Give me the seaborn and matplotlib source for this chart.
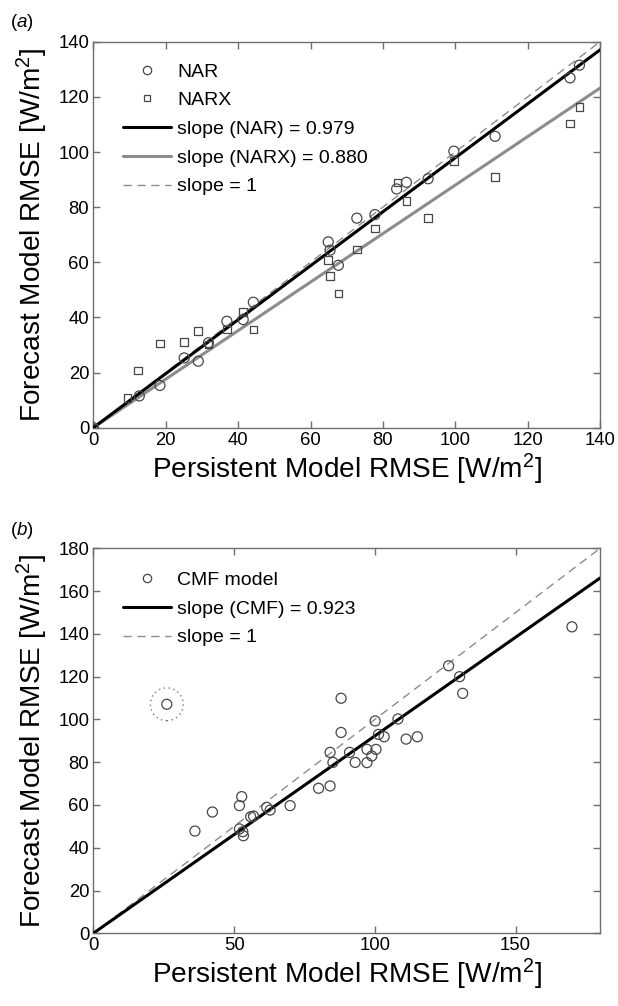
import numpy as np
import pandas as pd
import matplotlib
matplotlib.use("Agg")
import matplotlib.pyplot as plt
import seaborn as sns
from matplotlib.lines import Line2D

# ---------------- data ----------------
# Panel (a)
nar_x = [0, 12.7, 18.4, 25.1, 29.0, 31.8, 36.9, 41.4, 44.2, 64.9, 65.4, 67.7,
         72.8, 77.8, 83.8, 86.5, 92.5, 99.6, 111.0, 131.7, 134.3]
nar_y = [0, 11.5, 15.3, 25.3, 24.1, 30.8, 38.6, 39.2, 45.5, 67.4, 64.4, 58.9,
         76.0, 77.3, 86.6, 89.0, 90.3, 100.3, 105.7, 126.9, 131.5]
narx_x = [0, 9.4, 12.4, 18.4, 25.1, 29.0, 31.8, 36.9, 41.4, 44.2, 64.9, 65.4,
          67.7, 72.8, 77.8, 84.0, 86.5, 92.5, 99.6, 111.0, 131.7, 134.3]
narx_y = [0, 10.8, 20.7, 30.5, 31.0, 35.0, 30.1, 35.6, 41.9, 35.6, 60.8, 55.0,
          48.6, 64.6, 72.2, 89.0, 82.3, 76.0, 96.7, 90.9, 110.3, 116.4]
slope_nar = 0.979
slope_narx = 0.880

# Panel (b)
cmf_x = [26.1, 36.1, 42.3, 51.9, 52.7, 51.9, 53.1, 53.3, 55.9, 56.9, 61.6, 62.8,
         69.9, 80.0, 84.1, 84.1, 85.1, 88.0, 88.0, 91.0, 93.0, 97.2, 97.2, 98.9,
         100.4, 100.1, 101.3, 103.3, 108.2, 111.1, 115.1, 126.2, 130.1, 131.2, 170.0]
cmf_y = [107.1, 47.8, 56.7, 59.7, 63.9, 48.8, 47.5, 45.6, 54.5, 54.8, 58.9, 57.6,
         59.7, 67.8, 68.9, 84.6, 79.9, 109.9, 93.9, 84.6, 79.9, 86.0, 79.8, 82.9,
         86.0, 99.3, 93.0, 91.9, 100.2, 90.8, 91.9, 125.1, 120.0, 112.2, 143.3]
outlier_x = [26.1]
outlier_y = [107.1]
slope_cmf = 0.923

xlim_a = [0, 140]
ylim_a = [0, 140]
xticks_a = [0, 20, 40, 60, 80, 100, 120, 140]
yticks_a = [0, 20, 40, 60, 80, 100, 120, 140]
xlim_b = [0, 180]
ylim_b = [0, 180]
xticks_b = [0, 50, 100, 150]
yticks_b = [0, 20, 40, 60, 80, 100, 120, 140, 160, 180]

labels_a = ["NAR", "NARX", "slope (NAR) = 0.979", "slope (NARX) = 0.880", "slope = 1"]
labels_b = ["CMF model", "slope (CMF) = 0.923", "slope = 1"]
xlabel = "Persistent Model RMSE [W/m$^2$]"
ylabel = "Forecast Model RMSE [W/m$^2$]"

# ---------------- style ----------------
sns.set_style("ticks")
plt.rcParams['font.family'] = ['Liberation Sans', 'DejaVu Sans']
plt.rcParams['mathtext.fontset'] = 'custom'
plt.rcParams['mathtext.rm'] = 'Liberation Sans'
plt.rcParams['mathtext.it'] = 'Liberation Sans:italic'
plt.rcParams['text.color'] = 'black'
plt.rcParams['axes.labelcolor'] = 'black'
plt.rcParams['legend.labelcolor'] = 'black'

SPINE = '#6e6e6e'
PT = '#474747'
GRAY = '#8c8c8c'
DASH = '#8c8c8c'

fig = plt.figure(figsize=(6.18, 10.06), dpi=100)
ax1 = fig.add_axes([0.151, 0.5749, 0.820, 0.3836])
ax2 = fig.add_axes([0.151, 0.0723, 0.820, 0.3826])


def style_axes(ax, xlim, ylim, xt, yt):
    ax.set_xlim(xlim)
    ax.set_ylim(ylim)
    ax.set_xticks(xt)
    ax.set_yticks(yt)
    for s in ax.spines.values():
        s.set_visible(True)
        s.set_color(SPINE)
        s.set_linewidth(1.0)
    ax.tick_params(direction='in', length=5, width=1, color=SPINE,
                   top=True, right=True, labelsize=13.3, labelcolor='black', pad=3)
    ax.set_xlabel(xlabel, fontsize=20.2, labelpad=2, color='black')
    ax.set_ylabel(ylabel, fontsize=20.2, labelpad=6, color='black')


def make_legend(ax, handles, labels, y0):
    ax.legend(handles, labels, loc='upper left', bbox_to_anchor=(0.058, y0),
              frameon=False, fontsize=14, handlelength=2.5, handletextpad=0.3,
              borderpad=0, borderaxespad=0, labelspacing=0.57, labelcolor='black')


# ---- panel (a) ----
df_nar = pd.DataFrame({"x": nar_x, "y": nar_y})
df_narx = pd.DataFrame({"x": narx_x, "y": narx_y})
xa = np.array(xlim_a, dtype=float)
sns.lineplot(x=xa, y=xa, ax=ax1, color=DASH, lw=1.0, linestyle=(0, (6, 4)), zorder=2)
sns.lineplot(x=xa, y=slope_narx * xa, ax=ax1, color=GRAY, lw=2.2, zorder=3)
sns.lineplot(x=xa, y=slope_nar * xa, ax=ax1, color='black', lw=2.2, zorder=4)
sns.scatterplot(data=df_nar, x="x", y="y", ax=ax1, marker='o', s=52,
                facecolor='none', edgecolor=PT, linewidth=0.9, zorder=5)
sns.scatterplot(data=df_narx, x="x", y="y", ax=ax1, marker='s', s=30,
                facecolor='none', edgecolor=PT, linewidth=0.9, zorder=5)
style_axes(ax1, xlim_a, ylim_a, xticks_a, yticks_a)

h_a = [Line2D([], [], ls='none', marker='o', ms=6, mfc='none', mec=PT, mew=0.9),
       Line2D([], [], ls='none', marker='s', ms=5, mfc='none', mec=PT, mew=0.9),
       Line2D([], [], color='black', lw=2.2),
       Line2D([], [], color=GRAY, lw=2.2),
       Line2D([], [], color=DASH, lw=1.0, ls=(0, (6, 4)))]
make_legend(ax1, h_a, labels_a, 0.945)

# ---- panel (b) ----
df_cmf = pd.DataFrame({"x": cmf_x, "y": cmf_y})
xb = np.array(xlim_b, dtype=float)
sns.lineplot(x=xb, y=xb, ax=ax2, color=DASH, lw=1.0, linestyle=(0, (6, 4)), zorder=2)
sns.lineplot(x=xb, y=slope_cmf * xb, ax=ax2, color='black', lw=2.2, zorder=4)
sns.scatterplot(data=df_cmf, x="x", y="y", ax=ax2, marker='o', s=52,
                facecolor='none', edgecolor=PT, linewidth=0.9, zorder=5)
ax2.scatter(outlier_x, outlier_y, s=560, facecolor='none', edgecolor='#777777',
            linewidth=1.0, linestyle=(0, (1, 2.5)), zorder=5)
style_axes(ax2, xlim_b, ylim_b, xticks_b, yticks_b)

h_b = [Line2D([], [], ls='none', marker='o', ms=6, mfc='none', mec=PT, mew=0.9),
       Line2D([], [], color='black', lw=2.2),
       Line2D([], [], color=DASH, lw=1.0, ls=(0, (6, 4)))]
make_legend(ax2, h_b, labels_b, 0.94)

fig.text(0.016, 0.988, "($a$)", fontsize=13.5, ha='left', va='top')
fig.text(0.016, 0.483, "($b$)", fontsize=13.5, ha='left', va='top')

fig.savefig("out.png", dpi=100)
